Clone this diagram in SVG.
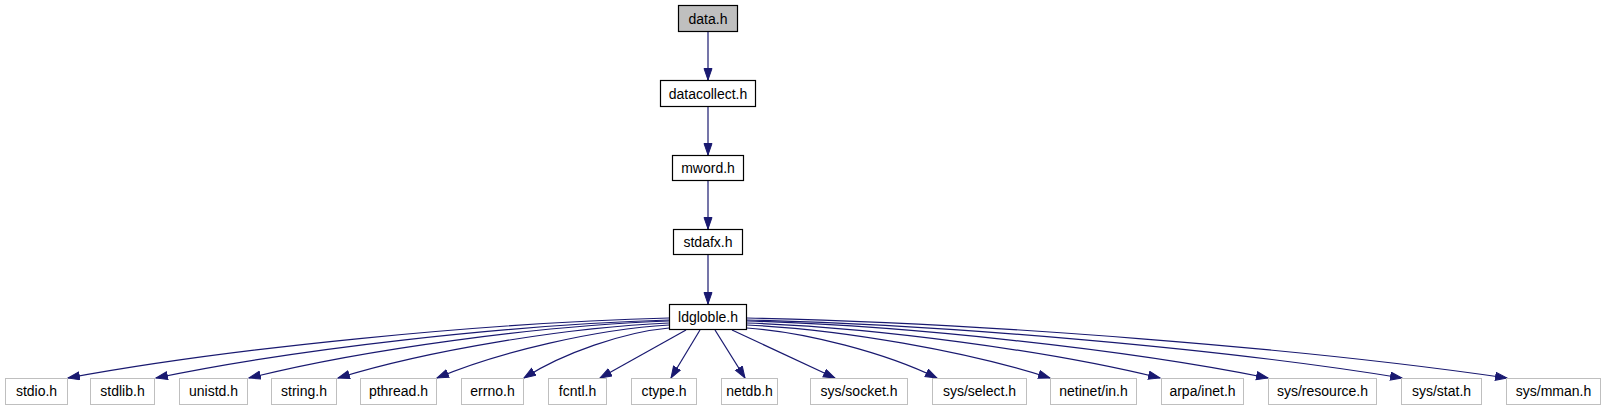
<svg xmlns="http://www.w3.org/2000/svg" width="1605" height="411" viewBox="0 0 1605 411">
<style>
.n rect{fill:#ffffff;stroke:#000000;stroke-width:1.2}
.root rect{fill:#bfbfbf}
.g rect{stroke:#bfbfbf;stroke-width:1}
text{font-family:"Liberation Sans",Arial,sans-serif;font-size:14px;fill:#000000;text-anchor:middle}
.e path{fill:none;stroke:#191970;stroke-width:1.2;marker-end:url(#ah)}
</style>
<defs>
<marker id="ah" markerUnits="userSpaceOnUse" markerWidth="13" markerHeight="10" refX="12" refY="4.5" orient="auto" viewBox="0 0 13 10">
<path d="M0.5,0.5 L12,4.5 L0.5,8.5 z" fill="#191970" stroke="#191970" stroke-width="1"/>
</marker>
</defs>
<rect width="1605" height="411" fill="#ffffff"/>
<g id="connectors" class="e">
<path d="M708,31.5 V80"/>
<path d="M708,106.5 V155"/>
<path d="M708,181 V229"/>
<path d="M708,255 V304"/>
<path d="M669,318 C483,322.8 230,348 68,378"/>
<path d="M669,320 C510,324.6 295,349 156,378"/>
<path d="M669,321 C539,325.6 362,349.5 249,378"/>
<path d="M669,323 C566,327.4 427,350.5 338,378"/>
<path d="M669,325 C597,329.2 500,351.5 437,378"/>
<path d="M669,328 C624,332 563,353 524,378"/>
<path d="M686,330 L600,378"/>
<path d="M700,330 L671,378"/>
<path d="M715,330 L745,378"/>
<path d="M732,330 L835,378"/>
<path d="M747,328 C806,332 886,353 937,378"/>
<path d="M747,325 C841,329.2 968,351.5 1050,378"/>
<path d="M747,323 C875,327.4 1048,350.5 1160,378"/>
<path d="M747,321 C908,325.6 1127,349.5 1268,378"/>
<path d="M747,320 C950,324.6 1225,349 1402,378"/>
<path d="M747,318 C983,322.8 1302,348 1507,378"/>
</g>
<g id="node-data" class="n root"><rect x="678.5" y="5.5" width="59" height="26"/><text x="708" y="23.5">data.h</text></g>
<g id="node-datacollect" class="n"><rect x="660.5" y="80.5" width="95" height="26"/><text x="708" y="98.5">datacollect.h</text></g>
<g id="node-mword" class="n"><rect x="672.5" y="155.5" width="71" height="25"/><text x="708" y="173">mword.h</text></g>
<g id="node-stdafx" class="n"><rect x="673.5" y="229.5" width="69" height="25"/><text x="708" y="247">stdafx.h</text></g>
<g id="node-ldgloble" class="n"><rect x="669.5" y="304.5" width="77" height="25"/><text x="708" y="322">ldgloble.h</text></g>
<g id="node-stdio" class="n g"><rect x="5.5" y="378.5" width="62" height="26"/><text x="36.5" y="396">stdio.h</text></g>
<g id="node-stdlib" class="n g"><rect x="90.5" y="378.5" width="64" height="26"/><text x="122.5" y="396">stdlib.h</text></g>
<g id="node-unistd" class="n g"><rect x="179.5" y="378.5" width="68" height="26"/><text x="213.5" y="396">unistd.h</text></g>
<g id="node-string" class="n g"><rect x="271.5" y="378.5" width="65" height="26"/><text x="304" y="396">string.h</text></g>
<g id="node-pthread" class="n g"><rect x="360.5" y="378.5" width="76" height="26"/><text x="398.5" y="396">pthread.h</text></g>
<g id="node-errno" class="n g"><rect x="461.5" y="378.5" width="62" height="26"/><text x="492.5" y="396">errno.h</text></g>
<g id="node-fcntl" class="n g"><rect x="548.5" y="378.5" width="58" height="26"/><text x="577.5" y="396">fcntl.h</text></g>
<g id="node-ctype" class="n g"><rect x="631.5" y="378.5" width="65" height="26"/><text x="664" y="396">ctype.h</text></g>
<g id="node-netdb" class="n g"><rect x="721.5" y="378.5" width="56" height="26"/><text x="749.5" y="396">netdb.h</text></g>
<g id="node-socket" class="n g"><rect x="810.5" y="378.5" width="97" height="26"/><text x="859" y="396">sys/socket.h</text></g>
<g id="node-select" class="n g"><rect x="932.5" y="378.5" width="94" height="26"/><text x="979.5" y="396">sys/select.h</text></g>
<g id="node-netinet" class="n g"><rect x="1050.5" y="378.5" width="86" height="26"/><text x="1093.5" y="396">netinet/in.h</text></g>
<g id="node-arpa" class="n g"><rect x="1161.5" y="378.5" width="82" height="26"/><text x="1202.5" y="396">arpa/inet.h</text></g>
<g id="node-resource" class="n g"><rect x="1268.5" y="378.5" width="108" height="26"/><text x="1322.5" y="396">sys/resource.h</text></g>
<g id="node-stat" class="n g"><rect x="1401.5" y="378.5" width="80" height="26"/><text x="1441.5" y="396">sys/stat.h</text></g>
<g id="node-mman" class="n g"><rect x="1506.5" y="378.5" width="94" height="26"/><text x="1553.5" y="396">sys/mman.h</text></g>
</svg>
